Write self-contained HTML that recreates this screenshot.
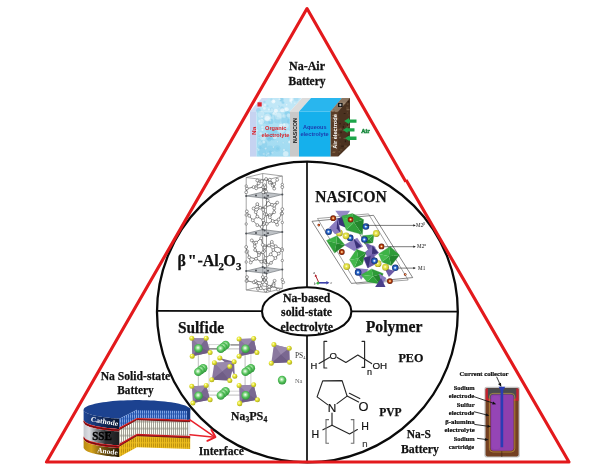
<!DOCTYPE html>
<html>
<head>
<meta charset="utf-8">
<title>Na-based solid-state electrolyte</title>
<style>
html,body{margin:0;padding:0;background:#fff;}
body{width:605px;height:475px;overflow:hidden;}
svg{display:block;will-change:transform;}
text{font-family:"Liberation Serif",serif;font-weight:bold;fill:#111;}
.s{font-family:"Liberation Sans",sans-serif;}
.r{fill:#d8232a;}.b{fill:#1c3cae;}.w{fill:#fff;}.g{fill:#17883c;}.k{fill:#111;}.gy{fill:#555;}
</style>
</head>
<body>
<svg width="605" height="475" viewBox="0 0 605 475">
<rect width="605" height="475" fill="#fff"/>

<!-- FRAME -->
<g id="frame" fill="none">
  <circle cx="307.4" cy="312" r="150.4" stroke="#0a0a0a" stroke-width="2.3"/>
  <line x1="307" y1="162" x2="307" y2="461" stroke="#0a0a0a" stroke-width="1.7"/>
  <line x1="157" y1="310.9" x2="458" y2="311.6" stroke="#0a0a0a" stroke-width="1.7"/>
  <ellipse cx="306.7" cy="311.4" rx="44.7" ry="24.1" fill="#fff" stroke="#0a0a0a" stroke-width="2.1"/>
</g>

<!-- CENTER LABEL -->
<g id="center" text-anchor="middle" font-size="13.4" stroke="#111" stroke-width="0.3">
  <text x="306.6" y="301.7" textLength="47.4" lengthAdjust="spacingAndGlyphs">Na-based</text>
  <text x="306.6" y="316.1" textLength="51" lengthAdjust="spacingAndGlyphs">solid-state</text>
  <text x="306.8" y="330.6" textLength="52.4" lengthAdjust="spacingAndGlyphs">electrolyte</text>
</g>

<!-- TOP: Na-Air -->
<g id="naair-label" text-anchor="middle" font-size="13.1" stroke="#111" stroke-width="0.3">
  <text x="307" y="70.3" textLength="36" lengthAdjust="spacingAndGlyphs">Na-Air</text>
  <text x="307" y="84.7" textLength="37" lengthAdjust="spacingAndGlyphs">Battery</text>
</g>

<!-- NA-AIR BATTERY ILLUSTRATION -->
<g id="naair-cell">
  <defs>
    <clipPath id="clipOrg"><polygon points="256.5,111.5 290,111.5 302,98 262,98 250,111.5 250,156.6 290,156.6 290,111.5"/></clipPath>
    <clipPath id="clipBrown"><polygon points="330.6,111.5 342,98 350,98 350,145 338.3,156.6 330.6,156.6"/></clipPath>
    <linearGradient id="gOrg" x1="0" y1="0" x2="0" y2="1"><stop offset="0" stop-color="#b4e3f5"/><stop offset="1" stop-color="#9fdaf1"/></linearGradient>
  </defs>
  <!-- top faces -->
  <polygon points="250,111.5 262,98 302,98 290,111.5" fill="#c0e7f7"/><polygon points="250,111.5 262,98 268,98 256.5,111.5" fill="#cfdcf4"/>
  <polygon points="290,111.5 302,98 311,98 299,111.5" fill="#dcdcdc"/>
  <polygon points="299,111.5 311,98 342,98 330.6,111.5" fill="#29b6ee"/>
  <!-- front faces -->
  <rect x="250" y="111.5" width="6.5" height="45.1" fill="#c6d3f1"/>
  <rect x="256.5" y="111.5" width="33.5" height="45.1" fill="url(#gOrg)"/>
  <rect x="290" y="111.5" width="9" height="45.1" fill="#c9c9c9"/>
  <rect x="299" y="111.5" width="31.6" height="45.1" fill="#15b0ec"/>
  <!-- brown air electrode: front + side + top -->
  <polygon points="330.6,111.5 342,98 350,98 350,145 338.3,156.6 330.6,156.6" fill="#5a3c27"/>
  <g clip-path="url(#clipBrown)"><rect x="345.7" y="128.9" width="1.3" height="1.0" fill="#6a4a30" fill-opacity=".75"/><rect x="340.2" y="148.9" width="2.2" height="1.9" fill="#7a5a3c" fill-opacity=".75"/><rect x="333.7" y="107.9" width="2.5" height="1.6" fill="#6a4a30" fill-opacity=".75"/><rect x="336.9" y="129.0" width="2.0" height="1.9" fill="#6a4a30" fill-opacity=".75"/><rect x="346.9" y="103.2" width="1.6" height="1.9" fill="#7a5a3c" fill-opacity=".75"/><rect x="340.1" y="131.5" width="1.9" height="1.7" fill="#3a2416" fill-opacity=".75"/><rect x="340.1" y="128.7" width="1.6" height="1.5" fill="#93775a" fill-opacity=".75"/><rect x="345.5" y="128.4" width="2.4" height="2.0" fill="#7a5a3c" fill-opacity=".75"/><rect x="348.0" y="114.5" width="2.8" height="1.1" fill="#6a4a30" fill-opacity=".75"/><rect x="339.1" y="123.3" width="1.9" height="0.9" fill="#2e1c10" fill-opacity=".75"/><rect x="335.3" y="104.1" width="1.6" height="1.0" fill="#93775a" fill-opacity=".75"/><rect x="345.0" y="152.6" width="2.3" height="1.0" fill="#93775a" fill-opacity=".75"/><rect x="346.9" y="154.2" width="2.5" height="0.9" fill="#7a5a3c" fill-opacity=".75"/><rect x="346.9" y="109.1" width="2.7" height="1.0" fill="#93775a" fill-opacity=".75"/><rect x="338.8" y="128.9" width="1.8" height="1.3" fill="#8b6b4a" fill-opacity=".75"/><rect x="332.7" y="120.5" width="2.1" height="1.4" fill="#8b6b4a" fill-opacity=".75"/><rect x="331.3" y="118.6" width="1.6" height="2.1" fill="#6a4a30" fill-opacity=".75"/><rect x="333.0" y="151.4" width="2.9" height="0.9" fill="#7a5a3c" fill-opacity=".75"/><rect x="335.8" y="102.2" width="1.5" height="1.0" fill="#7a5a3c" fill-opacity=".75"/><rect x="338.6" y="151.0" width="1.8" height="1.6" fill="#8b6b4a" fill-opacity=".75"/><rect x="340.3" y="127.7" width="1.2" height="0.9" fill="#8b6b4a" fill-opacity=".75"/><rect x="343.4" y="123.8" width="1.5" height="0.8" fill="#3a2416" fill-opacity=".75"/><rect x="332.6" y="114.6" width="2.7" height="0.9" fill="#6a4a30" fill-opacity=".75"/><rect x="346.5" y="125.4" width="3.0" height="1.4" fill="#8b6b4a" fill-opacity=".75"/><rect x="347.5" y="134.8" width="2.1" height="1.1" fill="#3a2416" fill-opacity=".75"/><rect x="333.0" y="109.0" width="1.4" height="2.1" fill="#3a2416" fill-opacity=".75"/><rect x="342.3" y="129.7" width="1.6" height="1.5" fill="#7a5a3c" fill-opacity=".75"/><rect x="334.2" y="119.4" width="3.0" height="0.9" fill="#3a2416" fill-opacity=".75"/><rect x="331.3" y="128.3" width="2.0" height="1.1" fill="#7a5a3c" fill-opacity=".75"/><rect x="339.0" y="136.9" width="1.9" height="1.5" fill="#93775a" fill-opacity=".75"/><rect x="346.0" y="122.0" width="1.6" height="1.1" fill="#6a4a30" fill-opacity=".75"/><rect x="335.1" y="111.1" width="2.5" height="1.0" fill="#93775a" fill-opacity=".75"/><rect x="348.8" y="155.0" width="1.0" height="1.7" fill="#7a5a3c" fill-opacity=".75"/><rect x="346.8" y="124.1" width="1.2" height="2.0" fill="#3a2416" fill-opacity=".75"/><rect x="346.7" y="137.6" width="2.2" height="1.8" fill="#8b6b4a" fill-opacity=".75"/><rect x="331.8" y="110.4" width="1.9" height="1.2" fill="#8b6b4a" fill-opacity=".75"/><rect x="348.3" y="154.5" width="1.6" height="0.8" fill="#6a4a30" fill-opacity=".75"/><rect x="346.9" y="112.2" width="1.0" height="1.3" fill="#7a5a3c" fill-opacity=".75"/><rect x="339.5" y="128.2" width="1.5" height="1.9" fill="#7a5a3c" fill-opacity=".75"/><rect x="332.6" y="145.8" width="1.8" height="0.9" fill="#7a5a3c" fill-opacity=".75"/><rect x="331.4" y="117.0" width="1.2" height="2.1" fill="#7a5a3c" fill-opacity=".75"/><rect x="346.4" y="108.7" width="2.6" height="1.6" fill="#93775a" fill-opacity=".75"/><rect x="344.8" y="140.4" width="1.3" height="1.8" fill="#2e1c10" fill-opacity=".75"/><rect x="342.6" y="102.5" width="2.8" height="1.7" fill="#93775a" fill-opacity=".75"/><rect x="344.2" y="145.5" width="2.8" height="1.9" fill="#7a5a3c" fill-opacity=".75"/><rect x="341.2" y="145.5" width="2.7" height="1.6" fill="#3a2416" fill-opacity=".75"/><rect x="347.1" y="138.2" width="2.3" height="0.9" fill="#93775a" fill-opacity=".75"/><rect x="331.8" y="135.7" width="1.8" height="1.4" fill="#3a2416" fill-opacity=".75"/><rect x="331.9" y="101.1" width="2.4" height="1.5" fill="#6a4a30" fill-opacity=".75"/><rect x="331.1" y="144.7" width="2.9" height="2.1" fill="#93775a" fill-opacity=".75"/><rect x="332.7" y="129.5" width="2.5" height="1.2" fill="#93775a" fill-opacity=".75"/><rect x="332.3" y="114.9" width="2.5" height="1.1" fill="#93775a" fill-opacity=".75"/><rect x="342.7" y="125.8" width="1.2" height="2.1" fill="#2e1c10" fill-opacity=".75"/><rect x="336.2" y="102.6" width="2.3" height="0.9" fill="#93775a" fill-opacity=".75"/><rect x="333.7" y="114.2" width="2.4" height="1.7" fill="#93775a" fill-opacity=".75"/><rect x="333.4" y="127.0" width="1.5" height="1.7" fill="#2e1c10" fill-opacity=".75"/><rect x="343.5" y="137.8" width="2.4" height="1.2" fill="#8b6b4a" fill-opacity=".75"/><rect x="339.4" y="143.0" width="1.4" height="2.2" fill="#6a4a30" fill-opacity=".75"/><rect x="347.9" y="101.0" width="1.2" height="1.5" fill="#2e1c10" fill-opacity=".75"/><rect x="348.9" y="155.7" width="1.4" height="2.1" fill="#2e1c10" fill-opacity=".75"/><rect x="334.8" y="132.6" width="2.5" height="1.2" fill="#7a5a3c" fill-opacity=".75"/><rect x="337.5" y="133.8" width="2.0" height="2.0" fill="#93775a" fill-opacity=".75"/><rect x="343.7" y="113.0" width="1.8" height="1.0" fill="#2e1c10" fill-opacity=".75"/><rect x="348.1" y="138.2" width="1.6" height="1.0" fill="#2e1c10" fill-opacity=".75"/><rect x="337.2" y="117.7" width="1.0" height="1.9" fill="#8b6b4a" fill-opacity=".75"/><rect x="346.1" y="106.7" width="2.4" height="2.1" fill="#7a5a3c" fill-opacity=".75"/><rect x="336.2" y="120.8" width="1.8" height="2.0" fill="#2e1c10" fill-opacity=".75"/><rect x="332.4" y="151.8" width="2.7" height="1.2" fill="#8b6b4a" fill-opacity=".75"/><rect x="331.9" y="137.1" width="2.9" height="1.1" fill="#93775a" fill-opacity=".75"/><rect x="335.8" y="128.6" width="2.5" height="1.9" fill="#7a5a3c" fill-opacity=".75"/></g>
  <polygon points="338.3,111.5 350,98 350,145 338.3,156.6" fill="#000" fill-opacity=".16"/><polygon points="330.6,111.5 342,98 350,98 338.3,111.5" fill="#b7a796" fill-opacity=".55"/>
  <g clip-path="url(#clipOrg)"><circle cx="271.9" cy="136.6" r="3.2" fill="#66c0e6" fill-opacity="0.32"/><circle cx="285.2" cy="120.4" r="4" fill="#66c0e6" fill-opacity="0.33"/><circle cx="277.3" cy="120.2" r="3.2" fill="#66c0e6" fill-opacity="0.29"/><circle cx="260.0" cy="147.6" r="1.5" fill="#66c0e6" fill-opacity="0.36"/><circle cx="270.1" cy="131.9" r="4" fill="#66c0e6" fill-opacity="0.37"/><circle cx="277.6" cy="148.6" r="1.5" fill="#66c0e6" fill-opacity="0.23"/><circle cx="263.3" cy="122.6" r="1.5" fill="#66c0e6" fill-opacity="0.40"/><circle cx="267.8" cy="138.0" r="2" fill="#66c0e6" fill-opacity="0.34"/><circle cx="278.1" cy="134.0" r="1.5" fill="#66c0e6" fill-opacity="0.33"/><circle cx="266.2" cy="155.9" r="1.5" fill="#66c0e6" fill-opacity="0.38"/><circle cx="267.4" cy="122.1" r="2.6" fill="#66c0e6" fill-opacity="0.23"/><circle cx="275.6" cy="116.7" r="1.5" fill="#66c0e6" fill-opacity="0.41"/><circle cx="269.8" cy="154.2" r="1.5" fill="#66c0e6" fill-opacity="0.27"/><circle cx="287.6" cy="114.3" r="3.2" fill="#66c0e6" fill-opacity="0.45"/><circle cx="270.1" cy="115.2" r="2" fill="#66c0e6" fill-opacity="0.40"/><circle cx="265.9" cy="115.8" r="2.6" fill="#66c0e6" fill-opacity="0.22"/><circle cx="270.5" cy="152.6" r="2" fill="#66c0e6" fill-opacity="0.28"/><circle cx="260.3" cy="114.6" r="3.2" fill="#66c0e6" fill-opacity="0.26"/><circle cx="275.5" cy="131.7" r="2" fill="#66c0e6" fill-opacity="0.45"/><circle cx="282.4" cy="130.4" r="3.2" fill="#66c0e6" fill-opacity="0.25"/><circle cx="270.9" cy="121.4" r="2.6" fill="#66c0e6" fill-opacity="0.42"/><circle cx="289.2" cy="138.1" r="1.5" fill="#66c0e6" fill-opacity="0.27"/><circle cx="270.0" cy="149.6" r="4" fill="#66c0e6" fill-opacity="0.24"/><circle cx="289.6" cy="121.4" r="2.6" fill="#66c0e6" fill-opacity="0.22"/><circle cx="277.1" cy="148.5" r="3.2" fill="#66c0e6" fill-opacity="0.24"/><circle cx="260.0" cy="137.6" r="2" fill="#66c0e6" fill-opacity="0.22"/><circle cx="269.2" cy="139.4" r="2" fill="#66c0e6" fill-opacity="0.44"/><circle cx="273.0" cy="137.3" r="3.2" fill="#66c0e6" fill-opacity="0.26"/><circle cx="262.1" cy="152.0" r="4" fill="#66c0e6" fill-opacity="0.28"/><circle cx="263.3" cy="144.5" r="4" fill="#66c0e6" fill-opacity="0.27"/><circle cx="296.2" cy="99.1" r="2.4" fill="#66c0e6" fill-opacity="0.22"/><circle cx="258.4" cy="110.4" r="2.4" fill="#66c0e6" fill-opacity="0.39"/><circle cx="282.0" cy="108.0" r="1.8" fill="#66c0e6" fill-opacity="0.28"/><circle cx="281.6" cy="99.7" r="2.4" fill="#66c0e6" fill-opacity="0.24"/><circle cx="264.4" cy="102.0" r="1.2" fill="#66c0e6" fill-opacity="0.30"/><circle cx="283.4" cy="102.8" r="1.2" fill="#66c0e6" fill-opacity="0.26"/><circle cx="271.4" cy="99.5" r="1.2" fill="#66c0e6" fill-opacity="0.21"/><circle cx="267.5" cy="105.9" r="1.2" fill="#66c0e6" fill-opacity="0.24"/><circle cx="278.7" cy="106.4" r="1.2" fill="#66c0e6" fill-opacity="0.22"/><circle cx="271.7" cy="109.3" r="1.8" fill="#66c0e6" fill-opacity="0.33"/><circle cx="282.6" cy="102.4" r="1.2" fill="#66c0e6" fill-opacity="0.32"/><circle cx="281.3" cy="99.5" r="1.8" fill="#66c0e6" fill-opacity="0.34"/><circle cx="267.7" cy="118.6" r="3" fill="#fff" fill-opacity="0.27" stroke="#8fd0ea" stroke-opacity=".5" stroke-width=".4"/><circle cx="284.1" cy="116.1" r="2.2" fill="#fff" fill-opacity="0.27" stroke="#8fd0ea" stroke-opacity=".5" stroke-width=".4"/><circle cx="273.7" cy="113.6" r="1.6" fill="#fff" fill-opacity="0.40" stroke="#8fd0ea" stroke-opacity=".5" stroke-width=".4"/><circle cx="264.9" cy="136.2" r="0.8" fill="#fff" fill-opacity="0.54" stroke="#8fd0ea" stroke-opacity=".5" stroke-width=".4"/><circle cx="261.1" cy="121.8" r="3" fill="#fff" fill-opacity="0.45" stroke="#8fd0ea" stroke-opacity=".5" stroke-width=".4"/><circle cx="259.0" cy="137.8" r="0.8" fill="#fff" fill-opacity="0.59" stroke="#8fd0ea" stroke-opacity=".5" stroke-width=".4"/><circle cx="258.5" cy="149.8" r="1.2" fill="#fff" fill-opacity="0.40" stroke="#8fd0ea" stroke-opacity=".5" stroke-width=".4"/><circle cx="274.8" cy="137.1" r="2.2" fill="#fff" fill-opacity="0.54" stroke="#8fd0ea" stroke-opacity=".5" stroke-width=".4"/><circle cx="263.0" cy="137.6" r="3" fill="#fff" fill-opacity="0.32" stroke="#8fd0ea" stroke-opacity=".5" stroke-width=".4"/><circle cx="260.2" cy="143.3" r="2.2" fill="#fff" fill-opacity="0.27" stroke="#8fd0ea" stroke-opacity=".5" stroke-width=".4"/><circle cx="263.8" cy="141.9" r="1.6" fill="#fff" fill-opacity="0.52" stroke="#8fd0ea" stroke-opacity=".5" stroke-width=".4"/><circle cx="272.4" cy="152.6" r="1.2" fill="#fff" fill-opacity="0.35" stroke="#8fd0ea" stroke-opacity=".5" stroke-width=".4"/><circle cx="283.2" cy="142.8" r="1" fill="#fff" fill-opacity="0.28" stroke="#8fd0ea" stroke-opacity=".5" stroke-width=".4"/><circle cx="266.9" cy="133.8" r="1.2" fill="#fff" fill-opacity="0.51" stroke="#8fd0ea" stroke-opacity=".5" stroke-width=".4"/><circle cx="266.5" cy="155.1" r="0.8" fill="#fff" fill-opacity="0.43" stroke="#8fd0ea" stroke-opacity=".5" stroke-width=".4"/><circle cx="262.4" cy="127.1" r="1.6" fill="#fff" fill-opacity="0.40" stroke="#8fd0ea" stroke-opacity=".5" stroke-width=".4"/><circle cx="288.7" cy="115.4" r="2.2" fill="#fff" fill-opacity="0.45" stroke="#8fd0ea" stroke-opacity=".5" stroke-width=".4"/><circle cx="285.9" cy="125.8" r="3" fill="#fff" fill-opacity="0.37" stroke="#8fd0ea" stroke-opacity=".5" stroke-width=".4"/><circle cx="273.4" cy="147.1" r="0.8" fill="#fff" fill-opacity="0.54" stroke="#8fd0ea" stroke-opacity=".5" stroke-width=".4"/><circle cx="288.2" cy="132.9" r="3" fill="#fff" fill-opacity="0.27" stroke="#8fd0ea" stroke-opacity=".5" stroke-width=".4"/><circle cx="281.1" cy="125.6" r="2.2" fill="#fff" fill-opacity="0.60" stroke="#8fd0ea" stroke-opacity=".5" stroke-width=".4"/><circle cx="284.1" cy="124.5" r="1.6" fill="#fff" fill-opacity="0.56" stroke="#8fd0ea" stroke-opacity=".5" stroke-width=".4"/><circle cx="268.5" cy="153.4" r="1.2" fill="#fff" fill-opacity="0.31" stroke="#8fd0ea" stroke-opacity=".5" stroke-width=".4"/><circle cx="260.9" cy="114.6" r="3.8" fill="#fff" fill-opacity="0.35" stroke="#8fd0ea" stroke-opacity=".5" stroke-width=".4"/><circle cx="281.4" cy="129.5" r="3.8" fill="#fff" fill-opacity="0.42" stroke="#8fd0ea" stroke-opacity=".5" stroke-width=".4"/><circle cx="262.5" cy="129.7" r="1.2" fill="#fff" fill-opacity="0.56" stroke="#8fd0ea" stroke-opacity=".5" stroke-width=".4"/><circle cx="284.0" cy="150.0" r="1.2" fill="#fff" fill-opacity="0.50" stroke="#8fd0ea" stroke-opacity=".5" stroke-width=".4"/><circle cx="289.6" cy="142.0" r="1.6" fill="#fff" fill-opacity="0.59" stroke="#8fd0ea" stroke-opacity=".5" stroke-width=".4"/><circle cx="262.0" cy="119.8" r="1" fill="#fff" fill-opacity="0.48" stroke="#8fd0ea" stroke-opacity=".5" stroke-width=".4"/><circle cx="257.4" cy="148.6" r="1" fill="#fff" fill-opacity="0.34" stroke="#8fd0ea" stroke-opacity=".5" stroke-width=".4"/><circle cx="257.1" cy="130.4" r="1.2" fill="#fff" fill-opacity="0.46" stroke="#8fd0ea" stroke-opacity=".5" stroke-width=".4"/><circle cx="267.5" cy="117.5" r="3.8" fill="#fff" fill-opacity="0.43" stroke="#8fd0ea" stroke-opacity=".5" stroke-width=".4"/><circle cx="277.4" cy="141.8" r="0.8" fill="#fff" fill-opacity="0.41" stroke="#8fd0ea" stroke-opacity=".5" stroke-width=".4"/><circle cx="285.7" cy="153.9" r="3" fill="#fff" fill-opacity="0.53" stroke="#8fd0ea" stroke-opacity=".5" stroke-width=".4"/><circle cx="269.9" cy="129.6" r="0.8" fill="#fff" fill-opacity="0.42" stroke="#8fd0ea" stroke-opacity=".5" stroke-width=".4"/><circle cx="270.2" cy="120.4" r="1" fill="#fff" fill-opacity="0.40" stroke="#8fd0ea" stroke-opacity=".5" stroke-width=".4"/><circle cx="260.6" cy="138.4" r="0.8" fill="#fff" fill-opacity="0.25" stroke="#8fd0ea" stroke-opacity=".5" stroke-width=".4"/><circle cx="262.0" cy="116.5" r="1.2" fill="#fff" fill-opacity="0.46" stroke="#8fd0ea" stroke-opacity=".5" stroke-width=".4"/><circle cx="259.3" cy="121.1" r="1.6" fill="#fff" fill-opacity="0.30" stroke="#8fd0ea" stroke-opacity=".5" stroke-width=".4"/><circle cx="265.3" cy="127.3" r="1.2" fill="#fff" fill-opacity="0.42" stroke="#8fd0ea" stroke-opacity=".5" stroke-width=".4"/><circle cx="260.8" cy="133.5" r="1.6" fill="#fff" fill-opacity="0.42" stroke="#8fd0ea" stroke-opacity=".5" stroke-width=".4"/><circle cx="267.3" cy="118.3" r="3" fill="#fff" fill-opacity="0.37" stroke="#8fd0ea" stroke-opacity=".5" stroke-width=".4"/><circle cx="265.7" cy="148.5" r="1" fill="#fff" fill-opacity="0.43" stroke="#8fd0ea" stroke-opacity=".5" stroke-width=".4"/><circle cx="263.8" cy="153.9" r="1.2" fill="#fff" fill-opacity="0.30" stroke="#8fd0ea" stroke-opacity=".5" stroke-width=".4"/><circle cx="274.9" cy="113.2" r="2.2" fill="#fff" fill-opacity="0.35" stroke="#8fd0ea" stroke-opacity=".5" stroke-width=".4"/><circle cx="278.2" cy="116.0" r="3.8" fill="#fff" fill-opacity="0.34" stroke="#8fd0ea" stroke-opacity=".5" stroke-width=".4"/><circle cx="262.7" cy="106.4" r="1" fill="#fff" fill-opacity="0.51"/><circle cx="273.8" cy="101.3" r="1" fill="#fff" fill-opacity="0.55"/><circle cx="291.0" cy="101.1" r="1" fill="#fff" fill-opacity="0.62"/><circle cx="290.6" cy="100.8" r="1" fill="#fff" fill-opacity="0.38"/><circle cx="286.7" cy="104.8" r="0.7" fill="#fff" fill-opacity="0.62"/><circle cx="264.9" cy="105.1" r="1.4" fill="#fff" fill-opacity="0.48"/><circle cx="301.8" cy="99.3" r="1.4" fill="#fff" fill-opacity="0.33"/><circle cx="271.9" cy="109.7" r="1.4" fill="#fff" fill-opacity="0.38"/><circle cx="294.9" cy="103.2" r="0.7" fill="#fff" fill-opacity="0.49"/><circle cx="291.2" cy="102.8" r="0.7" fill="#fff" fill-opacity="0.63"/><circle cx="268.9" cy="109.5" r="1" fill="#fff" fill-opacity="0.49"/><circle cx="285.5" cy="108.8" r="1.4" fill="#fff" fill-opacity="0.33"/><circle cx="291.3" cy="99.2" r="2" fill="#fff" fill-opacity="0.46"/><circle cx="291.4" cy="99.2" r="1" fill="#fff" fill-opacity="0.70"/><circle cx="275.9" cy="110.7" r="2" fill="#fff" fill-opacity="0.62"/><circle cx="286.7" cy="109.2" r="2" fill="#fff" fill-opacity="0.56"/><circle cx="277.8" cy="106.6" r="1" fill="#fff" fill-opacity="0.31"/><circle cx="289.8" cy="101.0" r="0.7" fill="#fff" fill-opacity="0.51"/><circle cx="279.6" cy="99.3" r="1" fill="#fff" fill-opacity="0.63"/><circle cx="264.4" cy="108.4" r="1.4" fill="#fff" fill-opacity="0.50"/><circle cx="273.4" cy="101.5" r="2" fill="#fff" fill-opacity="0.63"/><circle cx="282.3" cy="110.2" r="2" fill="#fff" fill-opacity="0.56"/></g>
  <!-- small terminals -->
  <rect x="257.5" y="102.3" width="4.2" height="4.2" fill="#e0202a"/>
  <rect x="338" y="103" width="4.6" height="4" fill="#151515"/>
  <path d="M339 105h2.6M340.3 103.8v2.4" stroke="#fff" stroke-width=".7"/>
  <!-- texts -->
  <g class="s" font-family="Liberation Sans, sans-serif" font-weight="bold">
    <text class="s r" transform="translate(255.6,135) rotate(-90)" font-size="6" textLength="8.2" lengthAdjust="spacingAndGlyphs">Na</text>
    <text class="s r" x="265" y="129.6" font-size="6.2" textLength="21.4" lengthAdjust="spacingAndGlyphs">Organic</text>
    <text class="s r" x="261.4" y="136.6" font-size="6.2" textLength="28" lengthAdjust="spacingAndGlyphs">electrolyte</text>
    <text class="s" transform="translate(297,143) rotate(-90)" font-size="6" fill="#111" textLength="25" lengthAdjust="spacingAndGlyphs">NASICON</text>
    <text class="s b" x="303" y="129.3" font-size="6.2" textLength="23.5" lengthAdjust="spacingAndGlyphs">Aqueous</text>
    <text class="s b" x="300.4" y="136.4" font-size="6.2" textLength="28.3" lengthAdjust="spacingAndGlyphs">electrolyte</text>
    <text class="s w" transform="translate(337,148.8) rotate(-90)" font-size="6" textLength="34.8" lengthAdjust="spacingAndGlyphs">Air electrode</text>
  </g>
  <!-- air arrows -->
  <g fill="#1ca549">
    <path d="M344.2,121.1 l4.8,-3 v1.3 h7.5 v3.4 h-7.5 v1.3z"/>
    <path d="M342.8,129.9 l4.8,-3 v1.3 h6.9 v3.4 h-6.9 v1.3z"/>
    <path d="M344.9,138.2 l4.8,-3 v1.3 h6.8 v3.4 h-6.8 v1.3z"/>
  </g>
  <text class="g" x="361.2" y="133.3" font-size="6.8" stroke="#17883c" stroke-width=".45" textLength="8.7" lengthAdjust="spacingAndGlyphs">Air</text>
</g>

<!-- BETA ALUMINA CRYSTAL -->
<g id="beta-crystal">
<g fill="none" stroke="#7c7c7c" stroke-width=".7">
<polygon points="246.2,177.5 262.7,173.5 282.3,176.0 266.5,180.0"/><polygon points="246.2,290.0 262.7,286.0 282.3,288.5 266.5,292.5"/>
<line x1="246.2" y1="177.5" x2="246.2" y2="290"/>
<line x1="262.7" y1="173.5" x2="262.7" y2="286"/>
<line x1="282.3" y1="176.0" x2="282.3" y2="288.5"/>
<line x1="266.5" y1="180.0" x2="266.5" y2="292.5"/>
</g>
<polygon points="246.2,196.0 262.7,192.0 282.3,194.5 266.5,198.5" fill="#959ba2" fill-opacity=".6" stroke="#666b70" stroke-width=".6"/>
<circle cx="246.2" cy="196.0" r="1.05" fill="#4e5257"/>
<circle cx="262.7" cy="192.0" r="1.05" fill="#4e5257"/>
<circle cx="282.3" cy="194.5" r="1.05" fill="#4e5257"/>
<circle cx="266.5" cy="198.5" r="1.05" fill="#4e5257"/>
<circle cx="256.0" cy="195.5" r="1.05" fill="#4e5257"/>
<circle cx="268.0" cy="195.7" r="1.05" fill="#4e5257"/>
<circle cx="264.6" cy="193.0" r="1.05" fill="#4e5257"/>
<circle cx="264.6" cy="197.5" r="1.05" fill="#4e5257"/>
<polygon points="246.2,233.5 262.7,229.5 282.3,232.0 266.5,236.0" fill="#959ba2" fill-opacity=".6" stroke="#666b70" stroke-width=".6"/>
<circle cx="246.2" cy="233.5" r="1.05" fill="#4e5257"/>
<circle cx="262.7" cy="229.5" r="1.05" fill="#4e5257"/>
<circle cx="282.3" cy="232.0" r="1.05" fill="#4e5257"/>
<circle cx="266.5" cy="236.0" r="1.05" fill="#4e5257"/>
<circle cx="256.0" cy="233.0" r="1.05" fill="#4e5257"/>
<circle cx="268.0" cy="233.2" r="1.05" fill="#4e5257"/>
<circle cx="264.6" cy="230.5" r="1.05" fill="#4e5257"/>
<circle cx="264.6" cy="235.0" r="1.05" fill="#4e5257"/>
<polygon points="246.2,271.0 262.7,267.0 282.3,269.5 266.5,273.5" fill="#959ba2" fill-opacity=".6" stroke="#666b70" stroke-width=".6"/>
<circle cx="246.2" cy="271.0" r="1.05" fill="#4e5257"/>
<circle cx="262.7" cy="267.0" r="1.05" fill="#4e5257"/>
<circle cx="282.3" cy="269.5" r="1.05" fill="#4e5257"/>
<circle cx="266.5" cy="273.5" r="1.05" fill="#4e5257"/>
<circle cx="256.0" cy="270.5" r="1.05" fill="#4e5257"/>
<circle cx="268.0" cy="270.7" r="1.05" fill="#4e5257"/>
<circle cx="264.6" cy="268.0" r="1.05" fill="#4e5257"/>
<circle cx="264.6" cy="272.5" r="1.05" fill="#4e5257"/>
<g stroke="#2a2a2a" stroke-width=".6">
<line x1="257.3" y1="180.5" x2="258.7" y2="183.4"/>
<line x1="257.3" y1="180.5" x2="261.7" y2="181.2"/>
<line x1="266.1" y1="179.0" x2="269.8" y2="179.7"/>
<line x1="266.1" y1="179.0" x2="261.7" y2="181.2"/>
<line x1="266.1" y1="179.0" x2="269.8" y2="182.7"/>
<line x1="269.8" y1="179.7" x2="269.8" y2="182.7"/>
<line x1="269.8" y1="179.7" x2="274.2" y2="184.2"/>
<line x1="277.2" y1="179.7" x2="274.2" y2="184.2"/>
<line x1="258.7" y1="183.4" x2="261.7" y2="181.2"/>
<line x1="258.7" y1="183.4" x2="256.2" y2="188.3"/>
<line x1="263.2" y1="187.1" x2="265.4" y2="187.1"/>
<line x1="263.2" y1="187.1" x2="263.2" y2="192.3"/>
<line x1="263.2" y1="187.1" x2="266.1" y2="191.5"/>
<line x1="272.7" y1="185.6" x2="274.2" y2="184.2"/>
<line x1="272.7" y1="185.6" x2="274.2" y2="188.6"/>
<line x1="272.7" y1="185.6" x2="269.8" y2="182.7"/>
<line x1="246.9" y1="188.6" x2="246.2" y2="192.3"/>
<line x1="246.9" y1="188.6" x2="253.6" y2="187.1"/>
<line x1="253.6" y1="187.1" x2="256.2" y2="188.3"/>
<line x1="253.6" y1="187.1" x2="258.7" y2="183.4"/>
<line x1="256.2" y1="188.3" x2="263.2" y2="187.1"/>
<line x1="265.4" y1="187.1" x2="266.1" y2="191.5"/>
<line x1="265.4" y1="187.1" x2="263.2" y2="192.3"/>
<line x1="274.2" y1="188.6" x2="274.2" y2="184.2"/>
<line x1="263.2" y1="192.3" x2="266.1" y2="191.5"/>
<line x1="269.8" y1="182.7" x2="274.2" y2="184.2"/>
<line x1="267.6" y1="200.4" x2="272.0" y2="204.8"/>
<line x1="267.6" y1="200.4" x2="265.4" y2="207.0"/>
<line x1="277.2" y1="202.6" x2="272.0" y2="204.8"/>
<line x1="277.2" y1="202.6" x2="274.2" y2="208.5"/>
<line x1="257.3" y1="204.1" x2="260.2" y2="207.7"/>
<line x1="257.3" y1="204.1" x2="253.6" y2="208.5"/>
<line x1="260.2" y1="207.7" x2="263.2" y2="209.9"/>
<line x1="260.2" y1="207.7" x2="265.4" y2="207.0"/>
<line x1="246.9" y1="211.4" x2="249.2" y2="215.8"/>
<line x1="253.6" y1="208.5" x2="255.8" y2="212.2"/>
<line x1="253.6" y1="208.5" x2="260.2" y2="207.7"/>
<line x1="263.2" y1="209.9" x2="265.4" y2="207.0"/>
<line x1="263.2" y1="209.9" x2="266.1" y2="214.4"/>
<line x1="282.3" y1="209.2" x2="281.6" y2="213.6"/>
<line x1="274.2" y1="212.2" x2="274.2" y2="208.5"/>
<line x1="274.2" y1="212.2" x2="269.8" y2="215.1"/>
<line x1="274.2" y1="212.2" x2="269.8" y2="217.3"/>
<line x1="269.8" y1="215.1" x2="269.8" y2="217.3"/>
<line x1="269.8" y1="215.1" x2="266.1" y2="214.4"/>
<line x1="266.1" y1="214.4" x2="269.8" y2="217.3"/>
<line x1="257.3" y1="216.6" x2="255.8" y2="212.2"/>
<line x1="257.3" y1="216.6" x2="252.8" y2="220.3"/>
<line x1="257.3" y1="216.6" x2="263.2" y2="220.3"/>
<line x1="263.2" y1="220.3" x2="266.8" y2="223.9"/>
<line x1="263.2" y1="220.3" x2="266.1" y2="214.4"/>
<line x1="263.2" y1="220.3" x2="261.7" y2="226.9"/>
<line x1="252.8" y1="220.3" x2="249.2" y2="215.8"/>
<line x1="252.8" y1="220.3" x2="257.3" y2="225.1"/>
<line x1="269.8" y1="217.3" x2="272.7" y2="221.0"/>
<line x1="272.7" y1="221.0" x2="277.2" y2="224.7"/>
<line x1="272.7" y1="221.0" x2="278.6" y2="219.5"/>
<line x1="277.2" y1="224.7" x2="278.6" y2="219.5"/>
<line x1="266.8" y1="223.9" x2="261.7" y2="226.9"/>
<line x1="266.8" y1="223.9" x2="272.7" y2="221.0"/>
<line x1="257.3" y1="225.1" x2="261.7" y2="226.9"/>
<line x1="274.2" y1="208.5" x2="272.0" y2="204.8"/>
<line x1="255.8" y1="212.2" x2="260.2" y2="207.7"/>
<line x1="265.4" y1="207.0" x2="272.0" y2="204.8"/>
<line x1="281.6" y1="213.6" x2="278.6" y2="219.5"/>
<line x1="261.2" y1="238.2" x2="262.7" y2="244.8"/>
<line x1="261.2" y1="238.2" x2="256.1" y2="242.6"/>
<line x1="251.8" y1="240.4" x2="256.1" y2="242.6"/>
<line x1="251.8" y1="240.4" x2="254.8" y2="246.3"/>
<line x1="271.8" y1="241.9" x2="269.1" y2="245.5"/>
<line x1="271.8" y1="241.9" x2="275.7" y2="246.3"/>
<line x1="269.1" y1="245.5" x2="264.7" y2="247.7"/>
<line x1="269.1" y1="245.5" x2="273.3" y2="250.0"/>
<line x1="282.0" y1="249.2" x2="278.8" y2="253.6"/>
<line x1="282.0" y1="249.2" x2="275.7" y2="246.3"/>
<line x1="275.7" y1="246.3" x2="273.3" y2="250.0"/>
<line x1="275.7" y1="246.3" x2="269.1" y2="245.5"/>
<line x1="264.7" y1="247.7" x2="262.7" y2="244.8"/>
<line x1="264.7" y1="247.7" x2="263.1" y2="252.2"/>
<line x1="246.2" y1="247.0" x2="247.2" y2="251.4"/>
<line x1="255.1" y1="250.0" x2="254.8" y2="246.3"/>
<line x1="255.1" y1="250.0" x2="259.1" y2="252.9"/>
<line x1="255.1" y1="250.0" x2="258.9" y2="255.1"/>
<line x1="259.1" y1="252.9" x2="258.9" y2="255.1"/>
<line x1="259.1" y1="252.9" x2="263.1" y2="252.2"/>
<line x1="263.1" y1="252.2" x2="258.9" y2="255.1"/>
<line x1="270.7" y1="254.4" x2="273.3" y2="250.0"/>
<line x1="270.7" y1="254.4" x2="275.4" y2="258.1"/>
<line x1="270.7" y1="254.4" x2="265.4" y2="258.1"/>
<line x1="265.4" y1="258.1" x2="261.3" y2="261.7"/>
<line x1="265.4" y1="258.1" x2="263.1" y2="252.2"/>
<line x1="275.4" y1="258.1" x2="278.8" y2="253.6"/>
<line x1="275.4" y1="258.1" x2="271.0" y2="262.9"/>
<line x1="258.9" y1="255.1" x2="256.0" y2="258.8"/>
<line x1="256.0" y1="258.8" x2="261.3" y2="261.7"/>
<line x1="256.0" y1="258.8" x2="250.7" y2="262.5"/>
<line x1="250.7" y1="262.5" x2="249.2" y2="257.3"/>
<line x1="261.3" y1="261.7" x2="267.6" y2="264.7"/>
<line x1="271.0" y1="262.9" x2="267.6" y2="264.7"/>
<line x1="267.6" y1="264.7" x2="265.4" y2="258.1"/>
<line x1="254.8" y1="246.3" x2="256.1" y2="242.6"/>
<line x1="262.7" y1="244.8" x2="269.1" y2="245.5"/>
<line x1="247.2" y1="251.4" x2="249.2" y2="257.3"/>
<line x1="278.8" y1="253.6" x2="273.3" y2="250.0"/>
<line x1="249.2" y1="257.3" x2="256.0" y2="258.8"/>
<line x1="258.0" y1="288.9" x2="260.8" y2="288.2"/>
<line x1="258.0" y1="288.9" x2="259.5" y2="286.0"/>
<line x1="265.5" y1="290.4" x2="269.2" y2="289.7"/>
<line x1="265.5" y1="290.4" x2="269.1" y2="286.7"/>
<line x1="265.5" y1="290.4" x2="260.8" y2="288.2"/>
<line x1="269.2" y1="289.7" x2="269.1" y2="286.7"/>
<line x1="269.2" y1="289.7" x2="273.5" y2="285.2"/>
<line x1="278.1" y1="289.7" x2="273.5" y2="285.2"/>
<line x1="259.5" y1="286.0" x2="260.8" y2="288.2"/>
<line x1="259.5" y1="286.0" x2="262.7" y2="282.3"/>
<line x1="262.7" y1="282.3" x2="266.2" y2="282.3"/>
<line x1="262.7" y1="282.3" x2="262.8" y2="277.1"/>
<line x1="273.7" y1="283.8" x2="273.5" y2="285.2"/>
<line x1="273.7" y1="283.8" x2="274.6" y2="280.8"/>
<line x1="273.7" y1="283.8" x2="269.1" y2="286.7"/>
<line x1="247.0" y1="280.8" x2="247.0" y2="277.1"/>
<line x1="247.0" y1="280.8" x2="253.9" y2="282.3"/>
<line x1="253.9" y1="282.3" x2="255.6" y2="281.1"/>
<line x1="253.9" y1="282.3" x2="259.5" y2="286.0"/>
<line x1="255.6" y1="281.1" x2="259.5" y2="286.0"/>
<line x1="255.6" y1="281.1" x2="262.7" y2="282.3"/>
<line x1="266.2" y1="282.3" x2="265.8" y2="277.9"/>
<line x1="266.2" y1="282.3" x2="269.1" y2="286.7"/>
<line x1="274.6" y1="280.8" x2="273.5" y2="285.2"/>
<line x1="262.8" y1="277.1" x2="265.8" y2="277.9"/>
<line x1="262.8" y1="277.1" x2="266.2" y2="282.3"/>
<line x1="265.8" y1="277.9" x2="262.7" y2="282.3"/>
<line x1="269.1" y1="286.7" x2="273.5" y2="285.2"/>
</g>
<g fill="#fff" stroke="#4a4a4a" stroke-width=".55">
<circle cx="257.3" cy="180.5" r="1.45"/>
<circle cx="266.1" cy="179.0" r="1.45"/>
<circle cx="269.8" cy="179.7" r="1.45"/>
<circle cx="277.2" cy="179.7" r="1.45"/>
<circle cx="258.7" cy="183.4" r="1.45"/>
<circle cx="263.2" cy="187.1" r="1.45"/>
<circle cx="272.7" cy="185.6" r="1.45"/>
<circle cx="246.9" cy="188.6" r="1.45"/>
<circle cx="253.6" cy="187.1" r="1.45"/>
<circle cx="256.2" cy="188.3" r="1.45"/>
<circle cx="265.4" cy="187.1" r="1.45"/>
<circle cx="274.2" cy="188.6" r="1.45"/>
<circle cx="282.3" cy="187.1" r="1.45"/>
<circle cx="246.2" cy="192.3" r="1.45"/>
<circle cx="263.2" cy="192.3" r="1.45"/>
<circle cx="266.1" cy="191.5" r="1.45"/>
<circle cx="269.8" cy="182.7" r="1.45"/>
<circle cx="274.2" cy="184.2" r="1.45"/>
<circle cx="261.7" cy="181.2" r="1.45"/>
<circle cx="267.6" cy="200.4" r="1.45"/>
<circle cx="277.2" cy="202.6" r="1.45"/>
<circle cx="257.3" cy="204.1" r="1.45"/>
<circle cx="260.2" cy="207.7" r="1.45"/>
<circle cx="246.9" cy="211.4" r="1.45"/>
<circle cx="253.6" cy="208.5" r="1.45"/>
<circle cx="263.2" cy="209.9" r="1.45"/>
<circle cx="282.3" cy="209.2" r="1.45"/>
<circle cx="274.2" cy="212.2" r="1.45"/>
<circle cx="269.8" cy="215.1" r="1.45"/>
<circle cx="266.1" cy="214.4" r="1.45"/>
<circle cx="257.3" cy="216.6" r="1.45"/>
<circle cx="263.2" cy="220.3" r="1.45"/>
<circle cx="252.8" cy="220.3" r="1.45"/>
<circle cx="269.8" cy="217.3" r="1.45"/>
<circle cx="272.7" cy="221.0" r="1.45"/>
<circle cx="277.2" cy="224.7" r="1.45"/>
<circle cx="266.8" cy="223.9" r="1.45"/>
<circle cx="257.3" cy="225.1" r="1.45"/>
<circle cx="261.7" cy="226.9" r="1.45"/>
<circle cx="274.2" cy="208.5" r="1.45"/>
<circle cx="272.0" cy="204.8" r="1.45"/>
<circle cx="255.8" cy="212.2" r="1.45"/>
<circle cx="265.4" cy="207.0" r="1.45"/>
<circle cx="281.6" cy="213.6" r="1.45"/>
<circle cx="249.2" cy="215.8" r="1.45"/>
<circle cx="278.6" cy="219.5" r="1.45"/>
<circle cx="261.2" cy="238.2" r="1.45"/>
<circle cx="251.8" cy="240.4" r="1.45"/>
<circle cx="271.8" cy="241.9" r="1.45"/>
<circle cx="269.1" cy="245.5" r="1.45"/>
<circle cx="282.0" cy="249.2" r="1.45"/>
<circle cx="275.7" cy="246.3" r="1.45"/>
<circle cx="264.7" cy="247.7" r="1.45"/>
<circle cx="246.2" cy="247.0" r="1.45"/>
<circle cx="255.1" cy="250.0" r="1.45"/>
<circle cx="259.1" cy="252.9" r="1.45"/>
<circle cx="263.1" cy="252.2" r="1.45"/>
<circle cx="270.7" cy="254.4" r="1.45"/>
<circle cx="265.4" cy="258.1" r="1.45"/>
<circle cx="275.4" cy="258.1" r="1.45"/>
<circle cx="258.9" cy="255.1" r="1.45"/>
<circle cx="256.0" cy="258.8" r="1.45"/>
<circle cx="250.7" cy="262.5" r="1.45"/>
<circle cx="261.3" cy="261.7" r="1.45"/>
<circle cx="271.0" cy="262.9" r="1.45"/>
<circle cx="267.6" cy="264.7" r="1.45"/>
<circle cx="254.8" cy="246.3" r="1.45"/>
<circle cx="256.1" cy="242.6" r="1.45"/>
<circle cx="273.3" cy="250.0" r="1.45"/>
<circle cx="262.7" cy="244.8" r="1.45"/>
<circle cx="247.2" cy="251.4" r="1.45"/>
<circle cx="278.8" cy="253.6" r="1.45"/>
<circle cx="249.2" cy="257.3" r="1.45"/>
<circle cx="258.0" cy="288.9" r="1.45"/>
<circle cx="265.5" cy="290.4" r="1.45"/>
<circle cx="269.2" cy="289.7" r="1.45"/>
<circle cx="278.1" cy="289.7" r="1.45"/>
<circle cx="259.5" cy="286.0" r="1.45"/>
<circle cx="262.7" cy="282.3" r="1.45"/>
<circle cx="273.7" cy="283.8" r="1.45"/>
<circle cx="247.0" cy="280.8" r="1.45"/>
<circle cx="253.9" cy="282.3" r="1.45"/>
<circle cx="255.6" cy="281.1" r="1.45"/>
<circle cx="266.2" cy="282.3" r="1.45"/>
<circle cx="274.6" cy="280.8" r="1.45"/>
<circle cx="283.2" cy="282.3" r="1.45"/>
<circle cx="247.0" cy="277.1" r="1.45"/>
<circle cx="262.8" cy="277.1" r="1.45"/>
<circle cx="265.8" cy="277.9" r="1.45"/>
<circle cx="269.1" cy="286.7" r="1.45"/>
<circle cx="273.5" cy="285.2" r="1.45"/>
<circle cx="260.8" cy="288.2" r="1.45"/>
<circle cx="246.2" cy="186" r="1.2"/>
<circle cx="282.3" cy="184.5" r="1.2"/>
<circle cx="264.6" cy="185" r="1.2"/>
<circle cx="246.2" cy="215" r="1.2"/>
<circle cx="282.3" cy="213.5" r="1.2"/>
<circle cx="264.6" cy="214" r="1.2"/>
<circle cx="246.2" cy="224" r="1.2"/>
<circle cx="282.3" cy="222.5" r="1.2"/>
<circle cx="264.6" cy="223" r="1.2"/>
<circle cx="246.2" cy="252" r="1.2"/>
<circle cx="282.3" cy="250.5" r="1.2"/>
<circle cx="264.6" cy="251" r="1.2"/>
<circle cx="246.2" cy="262" r="1.2"/>
<circle cx="282.3" cy="260.5" r="1.2"/>
<circle cx="264.6" cy="261" r="1.2"/>
<circle cx="246.2" cy="281" r="1.2"/>
<circle cx="282.3" cy="279.5" r="1.2"/>
<circle cx="264.6" cy="280" r="1.2"/>
</g></g>

<!-- NASICON CRYSTAL -->
<g id="nasicon-crystal">
<defs>
<radialGradient id="sphB" cx=".48" cy=".5" r=".55"><stop offset="0" stop-color="#ffffff"/><stop offset=".14" stop-color="#d8e6ff"/><stop offset=".4" stop-color="#2c6fd2"/><stop offset=".8" stop-color="#173a86"/><stop offset="1" stop-color="#0c1d4c"/></radialGradient>
<radialGradient id="sphY" cx=".45" cy=".45" r=".6"><stop offset="0" stop-color="#ffffee"/><stop offset=".3" stop-color="#ecea58"/><stop offset=".75" stop-color="#c9c630"/><stop offset="1" stop-color="#6f6a10"/></radialGradient>
<radialGradient id="sphR" cx=".5" cy=".5" r=".55"><stop offset="0" stop-color="#fff6e0"/><stop offset=".2" stop-color="#f0b070"/><stop offset=".45" stop-color="#b8400f"/><stop offset="1" stop-color="#4e0f06"/></radialGradient>
<radialGradient id="sphG" cx=".42" cy=".38" r=".68"><stop offset="0" stop-color="#f4fff0"/><stop offset=".28" stop-color="#7ad67a"/><stop offset=".6" stop-color="#3fae48"/><stop offset="1" stop-color="#1f7a2a"/></radialGradient>
</defs>
<g fill="none" stroke="#333" stroke-width=".6"><polygon points="312,221.3 373.5,215.3 412.7,277.6 351.4,283.4"/><polygon points="317.5,218.5 368.5,213.9 408.2,280 356.6,284" stroke="#666"/><line x1="350.7" y1="217.9" x2="371.5" y2="254.6"/></g>
<polygon points="335.3,210.7 350.1,210.7 342.7,221.1" fill="#9489c6"/>
<polygon points="336.4,219.0 344.6,216.0 346.0,227.8 338.7,224.8" fill="#3b3178"/>
<circle cx="339.3" cy="232.9" r="3.4" fill="url(#sphY)"/>
<polygon points="329.2,227.6 338.0,218.6 340.9,231.9 335.0,234.2" fill="#8a7cc0"/><polygon points="337.3,219.0 340.3,232.4 336.7,228.4" fill="#3b3178"/>
<polygon points="341.6,216.1 352.5,213.6 353.9,222.4" fill="#3db346"/><polygon points="352.5,213.6 363.6,219.6 353.9,222.4" fill="#2d9b37"/><polygon points="363.6,219.6 362.4,234.6 353.9,222.4" fill="#23862d"/><polygon points="362.4,234.6 346.2,230.0 353.9,222.4" fill="#30a03a"/><polygon points="346.2,230.0 341.6,216.1 353.9,222.4" fill="#45b94e"/><polygon points="341.6,216.1 352.5,213.6 363.6,219.6 362.4,234.6 346.2,230.0" fill="none" stroke="#23862c" stroke-width=".3"/>
<polygon points="362.4,235.8 374.0,234.6 369.1,238.8" fill="#3db346"/><polygon points="374.0,234.6 372.8,242.7 369.1,238.8" fill="#2d9b37"/><polygon points="372.8,242.7 364.7,243.9 369.1,238.8" fill="#23862d"/><polygon points="364.7,243.9 362.4,235.8 369.1,238.8" fill="#30a03a"/><polygon points="362.4,235.8 374.0,234.6 372.8,242.7 364.7,243.9" fill="none" stroke="#23862c" stroke-width=".3"/>
<circle cx="365.9" cy="226.5" r="3.3" fill="url(#sphB)"/>
<polygon points="326.5,240.4 336.9,235.8 336.4,243.2" fill="#3db346"/><polygon points="336.9,235.8 345.0,245.0 336.4,243.2" fill="#2d9b37"/><polygon points="345.0,245.0 334.6,253.1 336.4,243.2" fill="#23862d"/><polygon points="334.6,253.1 326.5,240.4 336.4,243.2" fill="#30a03a"/><polygon points="326.5,240.4 336.9,235.8 345.0,245.0 334.6,253.1" fill="none" stroke="#23862c" stroke-width=".3"/>
<polygon points="343.9,245.0 357.2,237.7 363.1,246.5 354.2,251.0" fill="#8a7cc0"/><polygon points="353.5,238.5 361.6,246.2 356.4,248.5" fill="#3b3178"/>
<circle cx="350.2" cy="237.9" r="3.3" fill="url(#sphB)"/>
<circle cx="346" cy="235.8" r="3.4" fill="url(#sphY)"/>
<circle cx="364.4" cy="239.5" r="3.3" fill="url(#sphB)"/>
<polygon points="365.4,242.7 375.6,247.1 370.5,255.9" fill="#6b5aa6"/>
<polygon points="364.2,252.7 373.1,245.3 379.0,252.7 370.2,260.1" fill="#7d6fb6"/><polygon points="372.4,245.7 378.3,253.1 372.0,254.8" fill="#3b3178"/>
<polygon points="378.6,253.9 390.1,246.4 388.9,256.2" fill="#3db346"/><polygon points="390.1,246.4 399.4,255.0 388.9,256.2" fill="#2d9b37"/><polygon points="399.4,255.0 391.3,265.5 388.9,256.2" fill="#23862d"/><polygon points="391.3,265.5 382.0,262.0 388.9,256.2" fill="#30a03a"/><polygon points="382.0,262.0 378.6,253.9 388.9,256.2" fill="#45b94e"/><polygon points="378.6,253.9 390.1,246.4 399.4,255.0 391.3,265.5 382.0,262.0" fill="none" stroke="#23862c" stroke-width=".3"/>
<polygon points="349.6,259.7 356.6,249.3 358.3,258.4" fill="#3db346"/><polygon points="356.6,249.3 365.8,252.7 358.3,258.4" fill="#2d9b37"/><polygon points="365.8,252.7 362.4,264.3 358.3,258.4" fill="#23862d"/><polygon points="362.4,264.3 354.3,267.8 358.3,258.4" fill="#30a03a"/><polygon points="354.3,267.8 349.6,259.7 358.3,258.4" fill="#45b94e"/><polygon points="349.6,259.7 356.6,249.3 365.8,252.7 362.4,264.3 354.3,267.8" fill="none" stroke="#23862c" stroke-width=".3"/>
<polygon points="363.2,257.9 373.5,253.4 376.5,263.7 367.5,268.2" fill="#6b5aa6"/><polygon points="363.9,257.9 370.7,256.0 368.2,268.3" fill="#3b3178"/>
<circle cx="378" cy="263.7" r="3.4" fill="url(#sphY)"/>
<circle cx="374.5" cy="260.8" r="3.3" fill="url(#sphB)"/>
<polygon points="355.2,267.9 368.5,269.3 361.1,279.8" fill="#8a7cc0"/>
<polygon points="361.2,274.7 371.6,268.9 373.1,276.2" fill="#3db346"/><polygon points="371.6,268.9 383.2,273.6 373.1,276.2" fill="#2d9b37"/><polygon points="383.2,273.6 379.7,284.0 373.1,276.2" fill="#23862d"/><polygon points="379.7,284.0 367.0,281.7 373.1,276.2" fill="#30a03a"/><polygon points="367.0,281.7 361.2,274.7 373.1,276.2" fill="#45b94e"/><polygon points="361.2,274.7 371.6,268.9 383.2,273.6 379.7,284.0 367.0,281.7" fill="none" stroke="#23862c" stroke-width=".3"/>
<polygon points="384.4,268.0 394.8,271.1 388.9,277.0" fill="#6b5aa6"/>
<polygon points="378.9,273.5 386.4,278.0 381.9,285.4" fill="#8a7cc0"/>
<polygon points="375.1,286.9 385.5,286.9 381.0,278.1" fill="#4a3f8a"/>
<circle cx="328.6" cy="231.7" r="3.3" fill="url(#sphB)"/>
<circle cx="358.1" cy="272.4" r="3.3" fill="url(#sphB)"/>
<circle cx="395.3" cy="267.8" r="3.3" fill="url(#sphB)"/>
<circle cx="376.3" cy="233.5" r="3.4" fill="url(#sphY)"/>
<circle cx="346.7" cy="266.6" r="3.4" fill="url(#sphY)"/>
<circle cx="385.5" cy="267.2" r="3.4" fill="url(#sphY)"/>
<circle cx="333.2" cy="218.2" r="2.9" fill="url(#sphR)"/>
<circle cx="350.6" cy="219.6" r="2.9" fill="url(#sphR)"/>
<circle cx="341.8" cy="252" r="2.9" fill="url(#sphR)"/>
<circle cx="381.5" cy="246.4" r="2.9" fill="url(#sphR)"/>
<circle cx="389.9" cy="281.1" r="2.9" fill="url(#sphR)"/>
<circle cx="318.8" cy="225.1" r="1.3" fill="url(#sphR)"/>
<circle cx="405.2" cy="274.5" r="1.3" fill="url(#sphR)"/>
<g stroke="#222" stroke-width=".6" fill="#222">
<line x1="365.5" y1="225.4" x2="414.7" y2="225.4"/><path d="M415.9,225.4 l-2.6,-1.1 v2.2z" stroke="none"/>
<line x1="384.4" y1="246.7" x2="414.7" y2="246.7"/><path d="M415.9,246.7 l-2.6,-1.1 v2.2z" stroke="none"/>
<line x1="398.3" y1="268.1" x2="414.7" y2="268.1"/><path d="M415.9,268.1 l-2.6,-1.1 v2.2z" stroke="none"/>
</g>
<g font-size="5.2" font-weight="normal" style="font-weight:normal">
<text x="416.1" y="226.8" style="font-weight:normal">M2<tspan font-size="3.5" dy="-2">β</tspan></text>
<text x="417.1" y="248.3" style="font-weight:normal">M2<tspan font-size="3.5" dy="-2">α</tspan></text>
<text x="418.1" y="269.7" style="font-weight:normal">M1</text>
</g>
<g stroke-width="1"><line x1="318.9" y1="282.8" x2="315.7" y2="275.8" stroke="#b0202a"/><path d="M315.0,274.2 l2.2,1.8 l-2.4,0.9z" fill="#b0202a"/><line x1="318.9" y1="282.8" x2="326.9" y2="282.8" stroke="#3a3fa8" stroke-width="1.6"/><path d="M329.4,282.8 l-3,-1.7 v3.4z" fill="#3a3fa8"/><circle cx="317.9" cy="283.2" r="1.4" fill="#3db446"/></g>
<g font-size="3.6" font-style="italic"><text x="313.3" y="273.6" style="font-weight:normal">a</text><text x="313.7" y="284.6" style="font-weight:normal">b</text><text x="330.5" y="284.0" style="font-weight:normal">c</text></g>
</g>

<!-- SULFIDE CRYSTAL -->
<g id="sulfide-crystal">
<defs><radialGradient id="sphS" cx=".38" cy=".35" r=".7"><stop offset="0" stop-color="#ffffd8"/><stop offset=".35" stop-color="#ecec3c"/><stop offset="1" stop-color="#a8a618"/></radialGradient><radialGradient id="sphG2" cx=".45" cy=".42" r=".62"><stop offset="0" stop-color="#ffffff"/><stop offset=".22" stop-color="#b6ecb4"/><stop offset=".55" stop-color="#56c25c"/><stop offset="1" stop-color="#2a8f36"/></radialGradient></defs>
<g fill="none" stroke="#7a7a7a" stroke-width=".5">
<polygon points="198.3,348.9 245.1,348.9 245.1,395.1 198.3,395.1"/>
<polygon points="209.0,344.6 250.9,344.6 250.9,391.2 209.0,391.2" stroke="#aaa"/>
<line x1="198.3" y1="348.9" x2="209.0" y2="344.6"/>
<line x1="245.1" y1="348.9" x2="250.9" y2="344.6"/>
<line x1="245.1" y1="395.1" x2="250.9" y2="391.2"/>
<line x1="198.3" y1="395.1" x2="209.0" y2="391.2"/>
</g>
<line x1="200.4" y1="348.9" x2="217.6" y2="348.9" stroke="#333" stroke-width=".7"/>
<line x1="230.5" y1="345.0" x2="240.2" y2="345.0" stroke="#333" stroke-width=".7"/>
<circle cx="225.6" cy="345.0" r="4.2" fill="url(#sphG2)"/><circle cx="223.2" cy="347.0" r="4.2" fill="url(#sphG2)"/><circle cx="220.8" cy="348.9" r="4.2" fill="url(#sphG2)"/>
<circle cx="225.6" cy="391.2" r="4.2" fill="url(#sphG2)"/><circle cx="223.2" cy="393.4" r="4.2" fill="url(#sphG2)"/><circle cx="220.8" cy="395.5" r="4.2" fill="url(#sphG2)"/>
<circle cx="203.2" cy="368.2" r="4.2" fill="url(#sphG2)"/><circle cx="200.8" cy="370.0" r="4.2" fill="url(#sphG2)"/><circle cx="198.3" cy="371.9" r="4.2" fill="url(#sphG2)"/>
<circle cx="250.9" cy="368.2" r="4.2" fill="url(#sphG2)"/><circle cx="248.3" cy="370.0" r="4.2" fill="url(#sphG2)"/><circle cx="245.5" cy="371.9" r="4.2" fill="url(#sphG2)"/>
<polygon points="219.8,357.9 234.1,361.8 234.8,376.2 229.8,366.5" fill="#7d6b93"/>
<polygon points="214.4,362.7 234.1,361.8 229.8,380.5 211.8,379.8" fill="#8a789f"/><polygon points="214.4,362.7 234.1,361.8 222.5,371.2" fill="#9a89ad"/><polygon points="234.1,361.8 229.8,380.5 222.5,371.2" fill="#7a6891"/><polygon points="211.8,379.8 229.8,380.5 222.5,371.2" fill="#6f5d86"/>
<circle cx="219.8" cy="357.9" r="2.5" fill="url(#sphS)"/>
<circle cx="234.8" cy="376.2" r="2.5" fill="url(#sphS)"/>
<circle cx="214.4" cy="362.7" r="2.5" fill="url(#sphS)"/>
<circle cx="234.1" cy="361.8" r="2.5" fill="url(#sphS)"/>
<circle cx="211.8" cy="379.8" r="2.5" fill="url(#sphS)"/>
<circle cx="229.8" cy="380.5" r="2.5" fill="url(#sphS)"/>
<circle cx="229.8" cy="366.5" r="2.5" fill="url(#sphS)"/>
<polygon points="191.8,338.2 206.2,338.2 210.1,352.6 192.2,356.2" fill="#8a789f"/><polygon points="191.8,338.2 206.2,338.2 200.1,346.3" fill="#9a89ad"/><polygon points="206.2,338.2 210.1,352.6 200.1,346.3" fill="#7a6891"/><polygon points="192.2,356.2 210.1,352.6 200.1,346.3" fill="#6f5d86"/>
<circle cx="198.4" cy="348.4" r="4.3" fill="url(#sphG2)"/>
<circle cx="191.8" cy="338.2" r="2.5" fill="url(#sphS)"/>
<circle cx="206.2" cy="338.2" r="2.5" fill="url(#sphS)"/>
<circle cx="192.2" cy="356.2" r="2.5" fill="url(#sphS)"/>
<circle cx="210.1" cy="352.6" r="2.5" fill="url(#sphS)"/>
<polygon points="239.1,339.0 253.7,338.6 256.9,352.6 239.1,356.2" fill="#8a789f"/><polygon points="239.1,339.0 253.7,338.6 247.2,346.6" fill="#9a89ad"/><polygon points="253.7,338.6 256.9,352.6 247.2,346.6" fill="#7a6891"/><polygon points="239.1,356.2 256.9,352.6 247.2,346.6" fill="#6f5d86"/>
<circle cx="245.5" cy="348.7" r="4.3" fill="url(#sphG2)"/>
<circle cx="239.1" cy="339.0" r="2.5" fill="url(#sphS)"/>
<circle cx="253.7" cy="338.6" r="2.5" fill="url(#sphS)"/>
<circle cx="239.1" cy="356.2" r="2.5" fill="url(#sphS)"/>
<circle cx="256.9" cy="352.6" r="2.5" fill="url(#sphS)"/>
<polygon points="191.8,386.3 206.2,385.4 210.1,399.8 192.9,403.1" fill="#8a789f"/><polygon points="191.8,386.3 206.2,385.4 200.3,393.7" fill="#9a89ad"/><polygon points="206.2,385.4 210.1,399.8 200.3,393.7" fill="#7a6891"/><polygon points="192.9,403.1 210.1,399.8 200.3,393.7" fill="#6f5d86"/>
<circle cx="198.5" cy="395.8" r="4.3" fill="url(#sphG2)"/>
<circle cx="191.8" cy="386.3" r="2.5" fill="url(#sphS)"/>
<circle cx="206.2" cy="385.4" r="2.5" fill="url(#sphS)"/>
<circle cx="192.9" cy="403.1" r="2.5" fill="url(#sphS)"/>
<circle cx="210.1" cy="399.8" r="2.5" fill="url(#sphS)"/>
<polygon points="239.1,385.4 253.7,384.8 257.4,399.8 239.7,403.1" fill="#8a789f"/><polygon points="239.1,385.4 253.7,384.8 247.5,393.3" fill="#9a89ad"/><polygon points="253.7,384.8 257.4,399.8 247.5,393.3" fill="#7a6891"/><polygon points="239.7,403.1 257.4,399.8 247.5,393.3" fill="#6f5d86"/>
<circle cx="245.7" cy="395.4" r="4.3" fill="url(#sphG2)"/>
<circle cx="239.1" cy="385.4" r="2.5" fill="url(#sphS)"/>
<circle cx="253.7" cy="384.8" r="2.5" fill="url(#sphS)"/>
<circle cx="239.7" cy="403.1" r="2.5" fill="url(#sphS)"/>
<circle cx="257.4" cy="399.8" r="2.5" fill="url(#sphS)"/>
<circle cx="239.7" cy="403.7" r="2.5" fill="url(#sphS)"/>
<polygon points="273.9,344.6 289.2,348.3 289.6,362.2 271.3,363.3" fill="#8a789f"/><polygon points="273.9,344.6 289.2,348.3 281.0,354.6" fill="#9a89ad"/><polygon points="289.2,348.3 289.6,362.2 281.0,354.6" fill="#7a6891"/><polygon points="271.3,363.3 289.6,362.2 281.0,354.6" fill="#6f5d86"/>
<circle cx="273.9" cy="344.6" r="2.5" fill="url(#sphS)"/>
<circle cx="289.2" cy="348.3" r="2.5" fill="url(#sphS)"/>
<circle cx="271.3" cy="363.3" r="2.5" fill="url(#sphS)"/>
<circle cx="289.6" cy="362.2" r="2.5" fill="url(#sphS)"/>
<circle cx="282.1" cy="380.1" r="4.3" fill="url(#sphG2)"/>
<text x="295" y="357.8" font-size="7.4" style="font-weight:normal;fill:#333">PS<tspan font-size="4.4" dy="1.2">4</tspan></text>
<text x="295" y="382.5" font-size="6.4" style="font-weight:normal;fill:#666">Na</text>
</g>

<!-- POLYMER STRUCTURES -->
<g id="polymers">
<g fill="none" stroke="#262626" stroke-width="1.15" stroke-linecap="round" stroke-linejoin="round">
  <path d="M319.1,363.4 L329.4,357.4"/>
  <path d="M337.2,357.4 L345.9,362.5 L357.8,355.1 L363.9,358.8 L371.6,363.6"/>
  <path d="M326.8,341.3 H324 V368 H326.8"/>
  <path d="M362,341.3 H364.6 V367.4 H362"/>
</g>
<g class="s" font-family="Liberation Sans, sans-serif" stroke="#111" stroke-width=".18">
  <text class="s" x="310.6" y="369.2" font-size="9.4" style="font-weight:normal">H</text>
  <text class="s" x="329.5" y="359.2" font-size="9.6" style="font-weight:normal">O</text>
  <text class="s" x="372.4" y="368.6" font-size="9.8" style="font-weight:normal">OH</text>
  <text class="s" x="367" y="374.5" font-size="9" style="font-weight:normal">n</text>
</g>
<g fill="none" stroke="#262626" stroke-width="1.15" stroke-linecap="round" stroke-linejoin="round">
  <path d="M327.6,404.6 L317.1,396.9 L322.7,380.9 L342.1,380.6 L347.1,396.1 L337,403.6"/>
  <path d="M347.1,396.1 L358.6,401.9"/>
  <path d="M349.4,393.3 L359.8,398.6"/>
  <path d="M332,413 V425.2"/>
  <path d="M322.9,429.8 L332,425.2 L349.6,434 L357.4,429.6"/>
</g>
<g fill="none" stroke="#6e6e6e" stroke-width="1.1">
  <path d="M329,419.6 H326 V443.2 H329"/>
  <path d="M350.8,419.6 H353.8 V443.2 H350.8"/>
</g>
<g class="s" font-family="Liberation Sans, sans-serif" stroke="#111" stroke-width=".18">
  <text class="s" x="327.7" y="412.2" font-size="11.8" style="font-weight:normal">N</text>
  <text class="s" x="358.6" y="411.3" font-size="12.8" style="font-weight:normal">O</text>
  <text class="s" x="311.6" y="438.3" font-size="10.6" style="font-weight:normal">H</text>
  <text class="s" x="361.3" y="429.8" font-size="10.6" style="font-weight:normal">H</text>
  <text class="s gy" x="362.3" y="446.7" font-size="9.6" style="font-weight:normal">n</text>
</g>
</g>

<!-- NA-S BATTERY -->
<g id="nas-cell">
<rect x="484.4" y="386.8" width="35.4" height="70.6" rx="2.2" fill="#c4c4c4"/>
<rect x="485.6" y="388" width="33" height="68.4" rx="1.8" fill="#744022"/>
<rect x="487.4" y="388.2" width="29.4" height="11" fill="#4a4b4e"/>
<path d="M485.6,388.4 h2.3 v8.4 q0,2.2 2.8,2.4 v1.6 h-5.1z" fill="#c3212f"/>
<path d="M518.6,388.4 h-2.3 v8.4 q0,2.2 -2.8,2.4 v1.6 h5.1z" fill="#c3212f"/>
<rect x="489.4" y="393.4" width="25.4" height="58.6" rx="3.6" fill="none" stroke="#cfa646" stroke-width=".6"/>
<rect x="490.6" y="394.6" width="23" height="56.2" rx="3" fill="#8e3fae"/>
<rect x="492" y="396" width="8" height="53" rx="2.5" fill="#a050c0" fill-opacity=".4"/>
<path d="M498.6,386.8 h6.6 l-2,3.6 v56.8 h-2.6 v-56.8z" fill="#2a3cb4"/>
<line x1="501.8" y1="451.2" x2="501.8" y2="457" stroke="#3a2010" stroke-width=".6"/>
<g stroke="#111" stroke-width=".85" fill="#111">
  <line x1="496.6" y1="376.8" x2="499.8" y2="383.8"/><path d="M501.4,387 l-3.4,-2.9 l2.9,-1.3z" stroke="none"/>
  <line x1="473.9" y1="396.6" x2="493" y2="403.1"/><path d="M496.2,404.2 l-4,.2 l1,-2.9z" stroke="none"/>
  <line x1="473.9" y1="411.7" x2="486.2" y2="414.8"/><path d="M489.4,415.7 l-3.9,.6 l.8,-3z" stroke="none"/>
  <line x1="474.3" y1="424.4" x2="487.6" y2="426.2"/><path d="M491,426.6 l-3.8,1.1 l.4,-3z" stroke="none"/>
  <line x1="477" y1="438.3" x2="485.2" y2="439.4"/><path d="M488.6,439.8 l-3.8,1.1 l.4,-3z" stroke="none"/>
</g>
<g font-size="7" text-anchor="end" stroke="#111" stroke-width=".22">
  <text x="508.4" y="375.6" textLength="48.8" lengthAdjust="spacingAndGlyphs">Current collector</text>
  <text x="474.7" y="389.6" textLength="21" lengthAdjust="spacingAndGlyphs">Sodium</text>
  <text x="474.2" y="398.3" textLength="25.4" lengthAdjust="spacingAndGlyphs">electrode</text>
  <text x="474.7" y="406.5" textLength="17.9" lengthAdjust="spacingAndGlyphs">Sulfur</text>
  <text x="474.2" y="414.9" textLength="25.4" lengthAdjust="spacingAndGlyphs">electrode</text>
  <text x="474.7" y="424" textLength="29.4" lengthAdjust="spacingAndGlyphs">β-alumina</text>
  <text x="474.7" y="432" textLength="30.1" lengthAdjust="spacingAndGlyphs">electrolyte</text>
  <text x="474.7" y="440.8" textLength="21" lengthAdjust="spacingAndGlyphs">Sodium</text>
  <text x="474.2" y="448.6" textLength="25.4" lengthAdjust="spacingAndGlyphs">cartridge</text>
</g>
</g>

<!-- COIN CELL -->
<g id="coin-cell">
<defs>
<linearGradient id="gSSE" x1="0" y1="0" x2="1" y2="0"><stop offset="0" stop-color="#c4c7cd"/><stop offset=".16" stop-color="#dcdee3"/><stop offset=".36" stop-color="#86888d"/><stop offset=".62" stop-color="#323336"/><stop offset="1" stop-color="#1c1c1e"/></linearGradient>
<linearGradient id="gBlue" x1="0" y1="0" x2="1" y2="0"><stop offset="0" stop-color="#1d4595"/><stop offset=".3" stop-color="#193878"/><stop offset=".7" stop-color="#0e2048"/><stop offset="1" stop-color="#0a1630"/></linearGradient>
<linearGradient id="gGold" x1="0" y1="0" x2="1" y2="0"><stop offset="0" stop-color="#b98a12"/><stop offset=".22" stop-color="#d4a21a"/><stop offset=".55" stop-color="#6e5210"/><stop offset="1" stop-color="#241a06"/></linearGradient>
<pattern id="pDotB" width="2" height="4.6" patternUnits="userSpaceOnUse"><rect width="2" height="4.6" fill="#2353ac"/><rect x="0" y=".4" width="1" height="3.8" fill="#7ea2e4"/></pattern>
<pattern id="pDotW" width="2" height="7" patternUnits="userSpaceOnUse" patternTransform="translate(0,1.6)"><rect width="2" height="7" fill="#8d8b80"/><rect x="0" y=".5" width="1.2" height="6" fill="#fdfcf2"/></pattern>
<pattern id="pDotG" width="2" height="5.4" patternUnits="userSpaceOnUse"><rect width="2" height="5.4" fill="#ecbc1e"/><rect x="1" y=".4" width="1" height="4.4" fill="#c0940f"/></pattern>
</defs>
<polygon points="136.9,409.7 119.2,418.8 115.6,418.5 112.1,418.2 108.7,417.8 105.5,417.5 102.4,417.0 99.6,416.6 96.9,416.0 94.4,415.5 92.2,414.9 90.2,414.3 88.5,413.7 87.0,413.1 85.7,412.4 84.8,411.7 84.1,411.0 83.7,410.3 83.6,409.6 83.8,408.9 84.2,408.2 85.0,407.6 86.0,406.9 87.2,406.2 88.8,405.6 90.6,405.0 92.6,404.4 94.9,403.8 97.4,403.3 100.1,402.8 103.0,402.3 106.1,401.9 109.3,401.5 112.7,401.1 116.3,400.8 119.9,400.6 123.6,400.4 127.4,400.3 131.3,400.2 135.1,400.1 139.0,400.1 142.9,400.2 146.7,400.3 150.5,400.4 154.2,400.6 157.9,400.9 161.4,401.2 164.8,401.5 168.0,401.9 171.1,402.3 174.0,402.8 176.7,403.3 179.1,403.8 181.4,404.4 183.4,405.0 185.2,405.6 186.7,406.3 188.0,406.9 188.9,407.6 189.6,408.3 190.1,409.0 190.2,409.7" fill="#1c4290"/>
<polygon points="83.6,409.7 85.1,411.9 86.6,412.9 88.0,413.5 89.5,414.1 91.0,414.6 92.5,415.0 94.0,415.4 95.5,415.7 97.0,416.1 98.4,416.3 99.9,416.6 101.4,416.9 102.9,417.1 104.4,417.3 105.8,417.5 107.3,417.7 108.8,417.9 110.3,418.0 111.8,418.2 113.3,418.3 114.8,418.4 116.2,418.5 117.7,418.7 119.2,418.8 119.2,429.0 117.7,428.9 116.2,428.7 114.8,428.6 113.3,428.5 111.8,428.4 110.3,428.2 108.8,428.1 107.3,427.9 105.8,427.7 104.4,427.5 102.9,427.3 101.4,427.1 99.9,426.8 98.4,426.5 97.0,426.3 95.5,425.9 94.0,425.6 92.5,425.2 91.0,424.8 89.5,424.3 88.0,423.7 86.6,423.1 85.1,422.1 83.6,419.9" fill="url(#gBlue)" />
<polygon points="83.6,419.9 85.1,422.1 86.6,423.1 88.0,423.7 89.5,424.3 91.0,424.8 92.5,425.2 94.0,425.6 95.5,425.9 97.0,426.3 98.4,426.5 99.9,426.8 101.4,427.1 102.9,427.3 104.4,427.5 105.8,427.7 107.3,427.9 108.8,428.1 110.3,428.2 111.8,428.4 113.3,428.5 114.8,428.6 116.2,428.7 117.7,428.9 119.2,429.0 119.2,431.6 117.7,431.5 116.2,431.3 114.8,431.2 113.3,431.1 111.8,431.0 110.3,430.8 108.8,430.7 107.3,430.5 105.8,430.3 104.4,430.1 102.9,429.9 101.4,429.7 99.9,429.4 98.4,429.1 97.0,428.9 95.5,428.5 94.0,428.2 92.5,427.8 91.0,427.4 89.5,426.9 88.0,426.3 86.6,425.7 85.1,424.7 83.6,422.5" fill="#c4161c" />
<polygon points="83.6,422.5 85.1,424.7 86.6,425.7 88.0,426.3 89.5,426.9 91.0,427.4 92.5,427.8 94.0,428.2 95.5,428.5 97.0,428.9 98.4,429.1 99.9,429.4 101.4,429.7 102.9,429.9 104.4,430.1 105.8,430.3 107.3,430.5 108.8,430.7 110.3,430.8 111.8,431.0 113.3,431.1 114.8,431.2 116.2,431.3 117.7,431.5 119.2,431.6 119.2,445.4 117.7,445.3 116.2,445.1 114.8,445.0 113.3,444.9 111.8,444.8 110.3,444.6 108.8,444.5 107.3,444.3 105.8,444.1 104.4,443.9 102.9,443.7 101.4,443.5 99.9,443.2 98.4,442.9 97.0,442.7 95.5,442.3 94.0,442.0 92.5,441.6 91.0,441.2 89.5,440.7 88.0,440.1 86.6,439.5 85.1,438.5 83.6,436.3" fill="url(#gSSE)" />
<polygon points="83.6,436.3 85.1,438.5 86.6,439.5 88.0,440.1 89.5,440.7 91.0,441.2 92.5,441.6 94.0,442.0 95.5,442.3 97.0,442.7 98.4,442.9 99.9,443.2 101.4,443.5 102.9,443.7 104.4,443.9 105.8,444.1 107.3,444.3 108.8,444.5 110.3,444.6 111.8,444.8 113.3,444.9 114.8,445.0 116.2,445.1 117.7,445.3 119.2,445.4 119.2,448.2 117.7,448.1 116.2,447.9 114.8,447.8 113.3,447.7 111.8,447.6 110.3,447.4 108.8,447.3 107.3,447.1 105.8,446.9 104.4,446.7 102.9,446.5 101.4,446.3 99.9,446.0 98.4,445.7 97.0,445.5 95.5,445.1 94.0,444.8 92.5,444.4 91.0,444.0 89.5,443.5 88.0,442.9 86.6,442.3 85.1,441.3 83.6,439.1" fill="#c4161c" />
<polygon points="83.6,439.1 85.1,441.3 86.6,442.3 88.0,442.9 89.5,443.5 91.0,444.0 92.5,444.4 94.0,444.8 95.5,445.1 97.0,445.5 98.4,445.7 99.9,446.0 101.4,446.3 102.9,446.5 104.4,446.7 105.8,446.9 107.3,447.1 108.8,447.3 110.3,447.4 111.8,447.6 113.3,447.7 114.8,447.8 116.2,447.9 117.7,448.1 119.2,448.2 119.2,457.0 117.7,456.9 116.2,456.7 114.8,456.6 113.3,456.5 111.8,456.4 110.3,456.2 108.8,456.1 107.3,455.9 105.8,455.7 104.4,455.5 102.9,455.3 101.4,455.1 99.9,454.8 98.4,454.5 97.0,454.3 95.5,453.9 94.0,453.6 92.5,453.2 91.0,452.8 89.5,452.3 88.0,451.7 86.6,451.1 85.1,450.1 83.6,447.9" fill="url(#gGold)" />
<polygon points="119.2,418.8 136.9,409.7 136.9,418.0 119.2,427.6" fill="url(#pDotB)"/>
<polygon points="119.2,427.6 136.9,418.0 136.9,419.9 119.2,430.0" fill="#c4161c"/>
<polygon points="119.2,430.0 136.9,419.9 136.9,433.7 119.2,443.8" fill="url(#pDotW)"/>
<polygon points="119.2,443.8 136.9,433.7 136.9,435.9 119.2,446.4" fill="#c4161c"/>
<polygon points="119.2,446.4 136.9,435.9 136.9,447.3 119.2,457.0" fill="url(#pDotG)"/>
<polygon points="136.9,408.5 190.2,408.5 190.2,419.7 136.9,418.0" fill="url(#pDotB)"/>
<polygon points="136.9,418.0 190.2,419.7 190.2,421.9 136.9,419.9" fill="#c4161c"/>
<polygon points="136.9,419.9 190.2,421.9 190.2,436.1 136.9,433.7" fill="url(#pDotW)"/>
<polygon points="136.9,433.7 190.2,436.1 190.2,438.1 136.9,435.9" fill="#c4161c"/>
<polygon points="136.9,435.9 190.2,438.1 190.2,449.1 136.9,447.3" fill="url(#pDotG)"/>
<polygon points="136.9,408.09999999999997 190.2,408.09999999999997 190.2,410.9 136.9,410.3" fill="#1c4290"/>
<rect x="188.2" y="421.9" width="2" height="14" fill="#e6e8ee"/>
<polygon points="83.6,420.8 85.1,423.0 86.6,424.0 88.0,424.6 89.5,425.2 91.0,425.7 92.5,426.1 94.0,426.5 95.5,426.8 97.0,427.2 98.4,427.4 99.9,427.7 101.4,428.0 102.9,428.2 104.4,428.4 105.8,428.6 107.3,428.8 108.8,429.0 110.3,429.1 111.8,429.3 113.3,429.4 114.8,429.5 116.2,429.6 117.7,429.8 119.2,429.9 119.2,430.8 117.7,430.7 116.2,430.5 114.8,430.4 113.3,430.3 111.8,430.2 110.3,430.0 108.8,429.9 107.3,429.7 105.8,429.5 104.4,429.3 102.9,429.1 101.4,428.9 99.9,428.6 98.4,428.3 97.0,428.1 95.5,427.7 94.0,427.4 92.5,427.0 91.0,426.6 89.5,426.1 88.0,425.5 86.6,424.9 85.1,423.9 83.6,421.7" fill="#5c1010"/><polygon points="83.6,437.3 85.1,439.5 86.6,440.5 88.0,441.1 89.5,441.7 91.0,442.2 92.5,442.6 94.0,443.0 95.5,443.3 97.0,443.7 98.4,443.9 99.9,444.2 101.4,444.5 102.9,444.7 104.4,444.9 105.8,445.1 107.3,445.3 108.8,445.5 110.3,445.6 111.8,445.8 113.3,445.9 114.8,446.0 116.2,446.1 117.7,446.3 119.2,446.4 119.2,447.3 117.7,447.2 116.2,447.0 114.8,446.9 113.3,446.8 111.8,446.7 110.3,446.5 108.8,446.4 107.3,446.2 105.8,446.0 104.4,445.8 102.9,445.6 101.4,445.4 99.9,445.1 98.4,444.8 97.0,444.6 95.5,444.2 94.0,443.9 92.5,443.5 91.0,443.1 89.5,442.6 88.0,442.0 86.6,441.4 85.1,440.4 83.6,438.2" fill="#5c1010"/>
<g stroke="#6e1212" stroke-width=".9" fill="none">
<path d="M119.2,429.8 L136.9,419.7 L190.2,421.7"/>
<path d="M119.2,446.2 L136.9,435.7 L190.2,437.9"/>
</g>
<rect x="187" y="408.6" width="3.2" height="11" fill="#173a82"/>
<g>
<text class="w" transform="translate(90.6,421.6) rotate(9)" font-size="7.2" textLength="27.6" lengthAdjust="spacingAndGlyphs">Cathode</text>
<text class="w" transform="translate(97,452.2) rotate(8)" font-size="7.2" textLength="20.6" lengthAdjust="spacingAndGlyphs">Anode</text>
</g>
<text x="92.2" y="440.4" font-size="12.4" textLength="19.6" lengthAdjust="spacingAndGlyphs" stroke="#000" stroke-width=".4" style="fill:#000">SSE</text>
<g fill="none" stroke="#e8212b" stroke-linecap="round" stroke-linejoin="round"><path d="M190,419.8 L214.6,436.8" stroke-width="1.5"/><path d="M190,434.8 L214.6,437.2" stroke-width="1.5"/><path d="M211.4,429.8 L215.4,437.1 L207.4,440.8" stroke-width="2"/></g>
</g>

<!-- QUADRANT LABELS -->
<g id="qlabels" stroke="#111" stroke-width="0.25">
  <g font-size="16">
    <text x="177.6" y="265.8">β</text>
    <text x="187.8" y="266.3" font-size="16">"</text>
    <text x="197.4" y="265.8">-Al</text>
    <text x="218.4" y="269.8" font-size="10.8">2</text>
    <text x="223.2" y="265.8">O</text>
    <text x="236" y="269.8" font-size="10.8">3</text>
  </g>
  <text x="315.2" y="201.8" font-size="16" textLength="71.6" lengthAdjust="spacingAndGlyphs">NASICON</text>
  <text x="177.9" y="333.2" font-size="16" textLength="46.3" lengthAdjust="spacingAndGlyphs">Sulfide</text>
  <text x="365.7" y="331.9" font-size="16" textLength="56.7" lengthAdjust="spacingAndGlyphs">Polymer</text>
  <g font-size="13">
    <text x="231" y="419.8" textLength="14.2" lengthAdjust="spacingAndGlyphs">Na</text>
    <text x="245.5" y="421.8" font-size="7.6">3</text>
    <text x="249.2" y="419.8" textLength="14.2" lengthAdjust="spacingAndGlyphs">PS</text>
    <text x="263.6" y="421.8" font-size="7.6">4</text>
    <text x="398.4" y="362.4" textLength="25" lengthAdjust="spacingAndGlyphs">PEO</text>
    <text x="379.2" y="415.8" textLength="22.4" lengthAdjust="spacingAndGlyphs">PVP</text>
    <text x="406.8" y="437.9" textLength="24.2" lengthAdjust="spacingAndGlyphs">Na-S</text>
    <text x="401" y="452.6" textLength="38" lengthAdjust="spacingAndGlyphs">Battery</text>
    <text x="198.8" y="454.6" textLength="45" lengthAdjust="spacingAndGlyphs">Interface</text>
    <text x="100.7" y="380.2" textLength="69.5" lengthAdjust="spacingAndGlyphs">Na Solid-state</text>
    <text x="117.3" y="394.4" textLength="36.3" lengthAdjust="spacingAndGlyphs">Battery</text>
  </g>
</g>

<!-- RED TRIANGLE (on top) -->
<path d="M405.8,181.8 L307,8.6 L46.5,462 L569,462 L406.1,180" fill="none" stroke="#e3191c" stroke-width="3.1" stroke-linejoin="round" stroke-linecap="butt"/>
</svg>
</body>
</html>
